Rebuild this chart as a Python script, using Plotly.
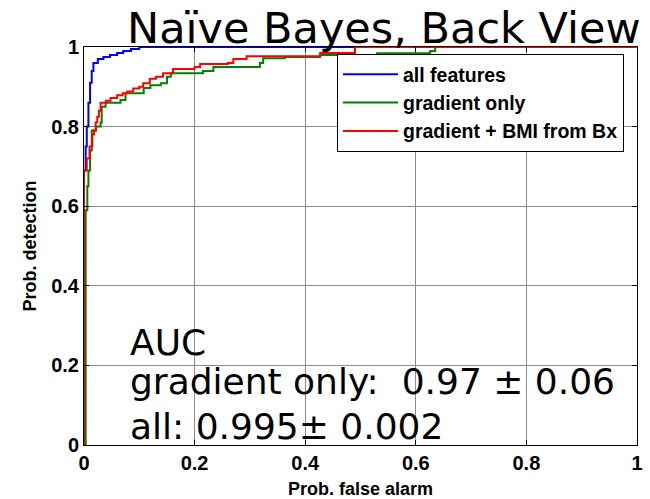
import plotly.graph_objects as go

# ROC points (false-alarm rate, detection rate), step curves
all_fpr = [0, 0, 0.003, 0.005, 0.008, 0.011, 0.014, 0.017, 0.025, 0.035, 0.047, 0.06, 0.071, 0.085, 0.1, 1.0]
all_tpr = [0, 0.69, 0.75, 0.80, 0.86, 0.91, 0.94, 0.96, 0.97, 0.975, 0.98, 0.985, 0.99, 0.995, 1.0, 1.0]

grad_fpr = [0, 0.003, 0.006, 0.008, 0.011, 0.014, 0.022, 0.03, 0.032, 0.039, 0.066, 0.075, 0.108, 0.12,
            0.139, 0.15, 0.157, 0.21, 0.215, 0.234, 0.313, 0.318, 0.324, 0.363, 0.427, 0.53, 0.626, 0.635, 1.0]
grad_tpr = [0, 0.59, 0.65, 0.69, 0.74, 0.79, 0.80, 0.81, 0.85, 0.86, 0.867, 0.884, 0.897, 0.904,
            0.909, 0.925, 0.934, 0.934, 0.94, 0.95, 0.95, 0.96, 0.972, 0.975, 0.98, 0.984, 0.99, 1.0, 1.0]

bmi_fpr = [0, 0, 0.005, 0.01, 0.015, 0.018, 0.021, 0.024, 0.027, 0.03, 0.04, 0.048, 0.06, 0.07, 0.078,
           0.089, 0.1, 0.107, 0.119, 0.13, 0.143, 0.161, 0.2, 0.21, 0.26, 0.27, 0.294, 0.427, 0.49, 1.0]
bmi_tpr = [0, 0.69, 0.72, 0.75, 0.78, 0.79, 0.81, 0.825, 0.84, 0.86, 0.865, 0.872, 0.879, 0.884, 0.888,
           0.896, 0.9, 0.909, 0.92, 0.925, 0.934, 0.945, 0.95, 0.957, 0.96, 0.97, 0.977, 0.985, 1.0, 1.0]

series_names = ["all features", "gradient only", "gradient + BMI from Bx"]
series_colors = ["#0000FF", "#008000", "#FF0000"]

tick_vals = [0, 0.2, 0.4, 0.6, 0.8, 1]
tick_text = ["0", "0.2", "0.4", "0.6", "0.8", "1"]

title_text = "Naïve Bayes, Back View"
auc_lines = ["AUC", "gradient only:  0.97 \u00b1 0.06", "all: 0.995\u00b1 0.002"]

W, H = 650, 499
L, R, T, B = 84, 13, 47, 54
pw, ph = W - L - R, H - T - B


def px_x(px):
    return (px - L) / pw


def px_y(py):
    return (H - B - py) / ph


fig = go.Figure()
for xs, ys, name, col in zip([all_fpr, grad_fpr, bmi_fpr], [all_tpr, grad_tpr, bmi_tpr],
                             series_names, series_colors):
    fig.add_trace(go.Scatter(x=xs, y=ys, mode="lines", name=name, line_shape="hv",
                             line=dict(color=col, width=2)))

axis_common = dict(
    range=[0, 1], tickvals=tick_vals, ticktext=tick_text, automargin=False,
    showline=True, linecolor="black", linewidth=1, mirror="ticks",
    ticks="inside", ticklen=5, tickcolor="black", tickwidth=1,
    showgrid=True, gridcolor="#8c8c8c", gridwidth=1, zeroline=False,
    tickfont=dict(family="Liberation Sans, Arial", size=20, color="black", weight="bold"),
)

fig.update_layout(
    width=W, height=H,
    margin=dict(l=L, r=R, t=T, b=B, pad=0),
    paper_bgcolor="white", plot_bgcolor="white",
    xaxis=dict(**axis_common,
               title=dict(text="Prob. false alarm", standoff=9,
                          font=dict(family="Liberation Sans, Arial", size=18, color="black", weight="bold"))),
    yaxis=dict(**axis_common,
               title=dict(text="Prob. detection", standoff=9,
                          font=dict(family="Liberation Sans, Arial", size=18, color="black", weight="bold"))),
    legend=dict(x=px_x(337), y=px_y(54), xanchor="left", yanchor="top",
                bgcolor="white", bordercolor="black", borderwidth=1,
                font=dict(family="Liberation Sans, Arial", size=19.5, color="black", weight="bold"),
                tracegroupgap=0, itemwidth=55),
    showlegend=True,
)

fig.add_annotation(text=title_text, xref="paper", yref="paper", x=px_x(384), y=px_y(28.5),
                   xanchor="center", yanchor="middle", showarrow=False,
                   font=dict(family="DejaVu Sans", size=43, color="black"))

auc_mid = [342, 381, 426]
for txt, py in zip(auc_lines, auc_mid):
    fig.add_annotation(text=txt, xref="paper", yref="paper", x=px_x(128), y=px_y(py),
                       xanchor="left", yanchor="middle", showarrow=False,
                       font=dict(family="DejaVu Sans", size=36, color="black"))

fig.write_html("out.html", config={"displayModeBar": False},
               post_script="document.body.style.margin='0';document.body.style.overflow='hidden';")
